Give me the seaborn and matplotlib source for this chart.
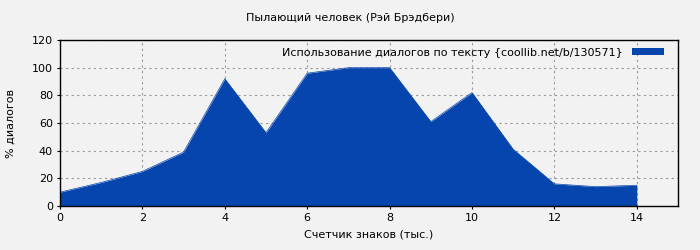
import matplotlib
matplotlib.use("Agg")
import matplotlib.pyplot as plt
import seaborn as sns
import pandas as pd

x_vals = [0, 1, 2, 3, 4, 5, 6, 7, 8, 9, 10, 11, 12, 13, 14]
y_vals = [10, 17, 25, 39, 92, 53, 96, 100, 100, 61, 82, 41, 16, 14, 15]
series_label = "Использование диалогов по тексту {coollib.net/b/130571}"
title = "Пылающий человек (Рэй Брэдбери)"
xlabel = "Счетчик знаков (тыс.)"
ylabel = "% диалогов"

sns.set_style("white")
plt.rcParams['font.family'] = ['DejaVu Sans']
plt.rcParams['text.color'] = 'black'
plt.rcParams['axes.labelcolor'] = 'black'

df = pd.DataFrame({"x": x_vals, "y": y_vals})
color = "#0645ad"
bg = "#f2f2f2"

fig = plt.figure(figsize=(7, 2.5), dpi=100, facecolor=bg)
ax = fig.add_axes([60/700, 1-206/250, 618/700, 166/250])
ax.set_facecolor(bg)
sns.lineplot(data=df, x="x", y="y", ax=ax, color=color, linewidth=0.5)
ax.fill_between(df["x"], df["y"], 0, color=color, label=series_label, linewidth=0, zorder=2)
ax.set_xlim(0, 15)
ax.set_ylim(0, 120)
ax.set_xticks(range(0, 15, 2))
ax.set_yticks(range(0, 121, 20))
ax.grid(True, linestyle=(0, (2, 3)), color="#999999", linewidth=0.8)
ax.set_axisbelow(True)
for s in ax.spines.values():
    s.set_color("black")
    s.set_linewidth(1)
ax.tick_params(labelsize=8, length=2, direction="out", colors="black", pad=3,
               bottom=True, left=True)
ax.set_xlabel(xlabel, fontsize=8, labelpad=5)
ax.set_ylabel(ylabel, fontsize=8, labelpad=12)
fig.text(0.5, 1-18/250, title, ha="center", va="center", fontsize=8)
leg = ax.legend(loc="upper right", bbox_to_anchor=(1 - 6/618, 1.0), frameon=False,
                markerfirst=False, fontsize=8, handlelength=2.9, handleheight=0.6,
                handletextpad=0.8, borderaxespad=0.3)
fig.savefig("out.png", dpi=100, facecolor=bg)
